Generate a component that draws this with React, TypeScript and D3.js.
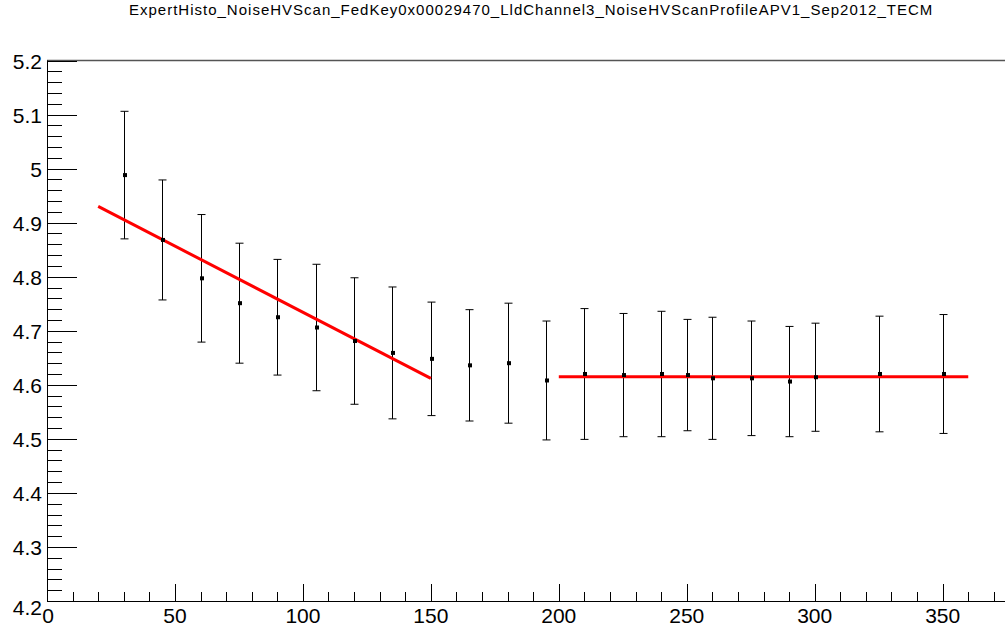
import React, { useEffect, useRef } from 'react';
import * as d3 from 'd3';

const title = "ExpertHisto_NoiseHVScan_FedKey0x00029470_LldChannel3_NoiseHVScanProfileAPV1_Sep2012_TECM";

// bias voltage points
const hv = [30, 45, 60, 75, 90, 105, 120, 135, 150, 165, 180, 195, 210, 225, 240, 250, 260, 275, 290, 300, 325, 350];
// mean noise
const noise = [4.988, 4.868, 4.797, 4.751, 4.725, 4.706, 4.681, 4.659, 4.648, 4.636, 4.640, 4.608, 4.620, 4.618, 4.620, 4.618, 4.612, 4.612, 4.606, 4.614, 4.620, 4.620];
// error on mean
const noiseErr = [0.118, 0.111, 0.118, 0.111, 0.107, 0.117, 0.117, 0.122, 0.105, 0.103, 0.111, 0.110, 0.121, 0.114, 0.116, 0.103, 0.113, 0.106, 0.102, 0.100, 0.107, 0.110];

// linear fits (x range and y at ends)
const fit1X = [20, 150];
const fit1Y = [4.930, 4.612];
const fit2X = [200, 360];
const fit2Y = [4.615, 4.615];

const xTicks = [0, 50, 100, 150, 200, 250, 300, 350];
const yTicks = [4.2, 4.3, 4.4, 4.5, 4.6, 4.7, 4.8, 4.9, 5, 5.1, 5.2];

const App = () => {
  const svgRef = useRef<SVGSVGElement>(null);

  useEffect(() => {
    const width = 1005;
    const height = 626;
    const left = 47;
    const top = 60.5;
    const bottom = 601;

    const svg = d3.select(svgRef.current);
    svg.selectAll("*").remove();
    svg.attr("width", width).attr("height", height);

    const x = d3.scaleLinear().domain([0, 375]).range([left, left + 375 * 2.559]);
    const y = d3.scaleLinear().domain([4.2, 5.2]).range([bottom, top]);

    svg.append("rect").attr("width", width).attr("height", height).attr("fill", "white");

    // title
    svg.append("text")
      .attr("x", 129)
      .attr("y", 14.5)
      .attr("font-family", "Liberation Sans, Arial, sans-serif")
      .attr("font-size", 15)
      .attr("letter-spacing", 1)
      .attr("fill", "#000")
      .text(title);

    // frame top line
    svg.append("line")
      .attr("x1", left).attr("x2", width)
      .attr("y1", top).attr("y2", top)
      .attr("stroke", "#555").attr("stroke-width", 1.5);

    const ax = svg.append("g").attr("stroke", "#000").attr("stroke-width", 1);

    // x axis
    ax.append("line").attr("x1", left).attr("x2", width).attr("y1", bottom + 0.5).attr("y2", bottom + 0.5);
    d3.range(0, 376, 10).forEach(v => {
      const major = v % 50 === 0;
      ax.append("line")
        .attr("x1", Math.round(x(v)) + 0.5).attr("x2", Math.round(x(v)) + 0.5)
        .attr("y1", bottom).attr("y2", bottom - (major ? 17 : 9));
    });

    // y axis
    ax.append("line").attr("x1", left + 0.5).attr("x2", left + 0.5).attr("y1", top).attr("y2", bottom);
    d3.range(0, 51).forEach(i => {
      const v = 4.2 + i * 0.02;
      const major = i % 5 === 0;
      ax.append("line")
        .attr("x1", left).attr("x2", left + (major ? 30 : 15))
        .attr("y1", Math.round(y(v)) + 0.5).attr("y2", Math.round(y(v)) + 0.5);
    });

    const lab = svg.append("g")
      .attr("font-family", "Liberation Sans, Arial, sans-serif")
      .attr("font-size", 21)
      .attr("fill", "#000");

    xTicks.forEach(v => {
      lab.append("text")
        .attr("x", x(v) + (v === 0 ? 1 : 0))
        .attr("y", 623)
        .attr("text-anchor", "middle")
        .text(v);
    });

    yTicks.forEach((v, i) => {
      lab.append("text")
        .attr("x", 42)
        .attr("y", y(v) + 8 + (i === 0 ? 6 : 0))
        .attr("text-anchor", "end")
        .text(d3.format("~g")(v));
    });

    // error bars
    const eb = svg.append("g").attr("stroke", "#000").attr("stroke-width", 1);
    hv.forEach((h, i) => {
      const cx = Math.round(x(h)) + 0.5;
      const y1 = y(noise[i] + noiseErr[i]);
      const y2 = y(noise[i] - noiseErr[i]);
      eb.append("line").attr("x1", cx).attr("x2", cx).attr("y1", y1).attr("y2", y2);
      eb.append("line").attr("x1", cx - 4).attr("x2", cx + 4).attr("y1", y1).attr("y2", y1);
      eb.append("line").attr("x1", cx - 4).attr("x2", cx + 4).attr("y1", y2).attr("y2", y2);
    });

    // fit lines
    const line = d3.line<[number, number]>().x(d => x(d[0])).y(d => y(d[1]));
    [[fit1X, fit1Y], [fit2X, fit2Y]].forEach(([fx, fy]) => {
      svg.append("path")
        .attr("d", line(fx.map((v, j) => [v, fy[j]] as [number, number])))
        .attr("fill", "none")
        .attr("stroke", "#ff0000")
        .attr("stroke-width", 3);
    });

    // markers
    svg.append("g")
      .selectAll("rect")
      .data(hv)
      .enter()
      .append("rect")
      .attr("x", d => Math.round(x(d)) - 1)
      .attr("y", (d, i) => y(noise[i]) - 2)
      .attr("width", 4)
      .attr("height", 4)
      .attr("fill", "#000");
  }, []);

  return <svg ref={svgRef} style={{ position: "absolute", left: 0, top: 0 }}></svg>;
};

export default App;
